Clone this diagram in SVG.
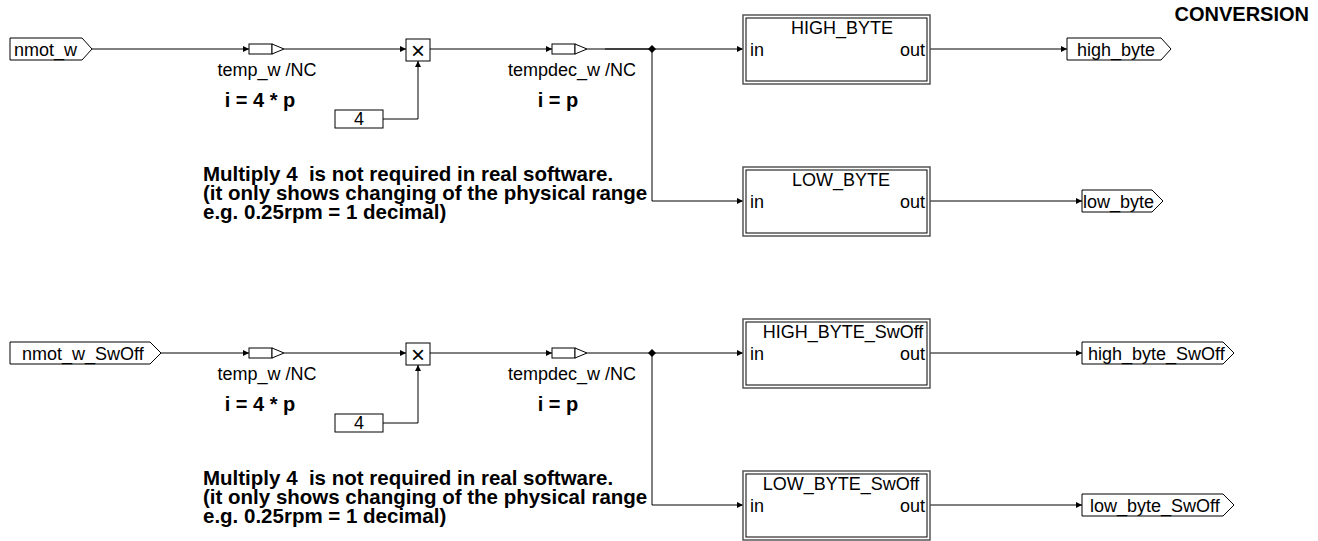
<svg xmlns="http://www.w3.org/2000/svg" width="1318" height="541" viewBox="0 0 1318 541">
<style>
  .t { font-family: "Liberation Sans", Arial, sans-serif; font-size: 18px; fill: #000; }
  .b { font-family: "Liberation Sans", Arial, sans-serif; font-size: 20px; font-weight: bold; fill: #000; }
  .c { font-family: "Liberation Sans", Arial, sans-serif; font-size: 20.5px; font-weight: bold; fill: #000; }
  .x { font-family: "Liberation Sans", Arial, sans-serif; font-size: 24px; fill: #000; text-anchor: middle; }
  .m { text-anchor: middle; }
  .e { text-anchor: end; }
  .box { fill: #fff; stroke: #000; stroke-width: 1; }
  .outer { fill: #fff; stroke: #555; stroke-width: 1.5; }
  .inner { fill: none; stroke: #000; stroke-width: 1; }
  .ln { fill: none; stroke: #000; stroke-width: 1; }
  .arr { marker-end: url(#ah); }
</style>
<defs>
  <marker id="ah" markerWidth="7" markerHeight="7" refX="6" refY="3.5" orient="auto" markerUnits="userSpaceOnUse">
    <path d="M0,0.5 L6,3.5 L0,6.5 Z" fill="#000"/>
  </marker>
</defs>
<rect width="1318" height="541" fill="#fff"/>

<text class="b e" x="1309" y="21" font-size="19">CONVERSION</text>

<g id="connectors">
  <path class="ln arr" d="M92,49 H249"/>
  <path class="ln arr" d="M284,49 H406"/>
  <path class="ln arr" d="M383,119 H418 V61"/>
  <path class="ln arr" d="M430,49 H552"/>
  <path class="ln" d="M587,49 H652"/>
  <path class="ln" d="M605,49 H652" stroke-width="2"/>
  <path class="ln arr" d="M652,49 H743"/>
  <path class="ln arr" d="M652,49 V201 H743"/>
  <path class="ln arr" d="M930,49 H1067"/>
  <path class="ln arr" d="M930,201 H1082"/>

  <path class="ln arr" d="M161,353 H249"/>
  <path class="ln arr" d="M284,353 H406"/>
  <path class="ln arr" d="M383,423 H418 V365"/>
  <path class="ln arr" d="M430,353 H552"/>
  <path class="ln" d="M587,353 H652"/>
  <path class="ln arr" d="M652,353 H743"/>
  <path class="ln arr" d="M652,353 V505 H743"/>
  <path class="ln arr" d="M930,353 H1082"/>
  <path class="ln arr" d="M930,505 H1082"/>
  <polygon points="652,45 656,49 652,53 648,49" fill="#000"/>
  <polygon points="652,349 656,353 652,357 648,353" fill="#000"/>
</g>

<!-- Top row -->
<g id="in_nmot_w">
  <polygon class="box" points="10,38 82,38 92,49 82,60 10,60"/>
  <text class="t" x="14" y="56">nmot_w</text>
</g>
<g id="temp_w">
  <rect class="box" x="249" y="44" width="23" height="10"/>
  <polygon class="box" points="272,44 284,49 272,54"/>
  <text class="t m" x="267" y="76">temp_w /NC</text>
  <text class="b m" x="260" y="107" font-size="21">i = 4 * p</text>
</g>
<g id="mult">
  <rect class="box" x="406" y="39" width="24" height="22"/>
  <text class="x" x="418" y="59">×</text>
</g>
<g id="const4">
  <rect class="box" x="335" y="110" width="48" height="18"/>
  <text class="t m" x="359" y="125">4</text>
</g>
<g id="tempdec_w">
  <rect class="box" x="552" y="44" width="23" height="10"/>
  <polygon class="box" points="575,44 587,49 575,54"/>
  <text class="t m" x="572" y="76">tempdec_w /NC</text>
  <text class="b m" x="558" y="107">i = p</text>
</g>
<g id="comment1">
  <text class="c" x="203" y="181" xml:space="preserve">Multiply 4  is not required in real software.</text>
  <text class="c" x="203" y="200">(it only shows changing of the physical range</text>
  <text class="c" x="203" y="219">e.g. 0.25rpm = 1 decimal)</text>
</g>
<g id="HIGH_BYTE">
  <rect class="outer" x="743" y="15" width="187" height="69"/>
  <rect class="inner" x="746" y="18" width="181" height="63"/>
  <text class="t m" x="842" y="34">HIGH_BYTE</text>
  <text class="t" x="750" y="56">in</text>
  <text class="t e" x="925" y="56">out</text>
</g>
<g id="LOW_BYTE">
  <rect class="outer" x="743" y="167" width="187" height="69"/>
  <rect class="inner" x="746" y="170" width="181" height="63"/>
  <text class="t m" x="841" y="186">LOW_BYTE</text>
  <text class="t" x="750" y="208">in</text>
  <text class="t e" x="925" y="208">out</text>
</g>
<g id="out_high_byte">
  <polygon class="box" points="1067,38 1161,38 1171,49 1161,60 1067,60"/>
  <text class="t" x="1077" y="56">high_byte</text>
</g>
<g id="out_low_byte">
  <polygon class="box" points="1082,190 1152,190 1163,201 1152,212 1082,212"/>
  <text class="t" x="1083" y="208">low_byte</text>
</g>

<!-- Bottom row -->
<g id="in_nmot_w_SwOff">
  <polygon class="box" points="10,342 150,342 161,353 150,364 10,364"/>
  <text class="t" x="22" y="360">nmot_w_SwOff</text>
</g>
<g id="temp_w_SwOff">
  <rect class="box" x="249" y="348" width="23" height="10"/>
  <polygon class="box" points="272,348 284,353 272,358"/>
  <text class="t m" x="267" y="380">temp_w /NC</text>
  <text class="b m" x="260" y="411" font-size="21">i = 4 * p</text>
</g>
<g id="mult_SwOff">
  <rect class="box" x="406" y="343" width="24" height="22"/>
  <text class="x" x="418" y="363">×</text>
</g>
<g id="const4_SwOff">
  <rect class="box" x="335" y="414" width="48" height="18"/>
  <text class="t m" x="359" y="429">4</text>
</g>
<g id="tempdec_w_SwOff">
  <rect class="box" x="552" y="348" width="23" height="10"/>
  <polygon class="box" points="575,348 587,353 575,358"/>
  <text class="t m" x="572" y="380">tempdec_w /NC</text>
  <text class="b m" x="558" y="411">i = p</text>
</g>
<g id="comment2">
  <text class="c" x="203" y="485" xml:space="preserve">Multiply 4  is not required in real software.</text>
  <text class="c" x="203" y="504">(it only shows changing of the physical range</text>
  <text class="c" x="203" y="523">e.g. 0.25rpm = 1 decimal)</text>
</g>
<g id="HIGH_BYTE_SwOff">
  <rect class="outer" x="743" y="319" width="187" height="69"/>
  <rect class="inner" x="746" y="322" width="181" height="63"/>
  <text class="t m" x="843" y="338">HIGH_BYTE_SwOff</text>
  <text class="t" x="750" y="360">in</text>
  <text class="t e" x="925" y="360">out</text>
</g>
<g id="LOW_BYTE_SwOff">
  <rect class="outer" x="743" y="471" width="187" height="69"/>
  <rect class="inner" x="746" y="474" width="181" height="63"/>
  <text class="t m" x="841" y="490">LOW_BYTE_SwOff</text>
  <text class="t" x="750" y="512">in</text>
  <text class="t e" x="925" y="512">out</text>
</g>
<g id="out_high_byte_SwOff">
  <polygon class="box" points="1082,342 1223,342 1234,353 1223,364 1082,364"/>
  <text class="t" x="1088" y="360">high_byte_SwOff</text>
</g>
<g id="out_low_byte_SwOff">
  <polygon class="box" points="1082,494 1223,494 1234,505 1223,516 1082,516"/>
  <text class="t" x="1090" y="512">low_byte_SwOff</text>
</g>
</svg>
